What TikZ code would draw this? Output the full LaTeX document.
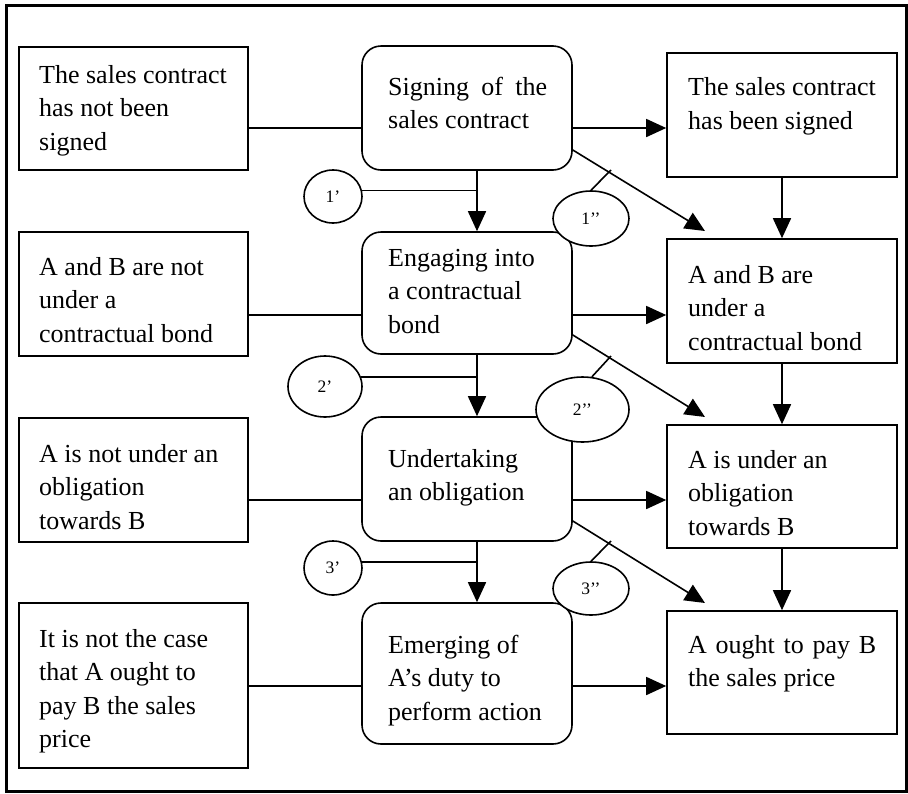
\documentclass[tikz,border=0pt]{standalone}
\usepackage{fontspec}
\setmainfont{Liberation Serif}
\usetikzlibrary{arrows.meta,shapes.geometric}
\begin{document}
\begin{tikzpicture}[x=1pt,y=-1pt,
  box/.style={draw,rectangle,line width=1.6pt,inner sep=0pt},
  rbox/.style={box,rounded corners=19pt},
  % text blocks are placed by the baseline of their last line
  txt/.style={anchor=base west,align=left,inner sep=0pt,font=\fontsize{26}{33.5}\selectfont},
  tag/.style={draw,fill=white,ellipse,line width=1.6pt,inner sep=0pt,font=\fontsize{17.5}{20}\selectfont},
  link/.style={line width=1.6pt},
  arr/.style={line width=1.6pt,-{Triangle[length=20pt,width=18pt]}},
]
\useasboundingbox (0,0) rectangle (908,793);
% outer frame
\draw[line width=3pt] (6,5) rectangle (906,791);

% left column: states before
\node[box,minimum width=229pt,minimum height=123pt] (L1) at (133.5,108.5) {};
\node[box,minimum width=229pt,minimum height=124pt] (L2) at (133.5,294) {};
\node[box,minimum width=229pt,minimum height=124pt] (L3) at (133.5,480) {};
\node[box,minimum width=229pt,minimum height=165pt] (L4) at (133.5,685.5) {};
\node[txt] (L1t) at (39,150) {The sales contract\\has not been\\signed};
\node[txt] (L2t) at (39,342) {A and B are not\\under a\\contractual bond};
\node[txt] (L3t) at (39,529) {A is not under an\\obligation\\towards B};
\node[txt] (L4t) at (39,747.5) {It is not the case\\that A ought to\\pay B the sales\\price};

% middle column: events
\node[rbox,minimum width=210pt,minimum height=124pt] (M1) at (467,108) {};
\node[rbox,minimum width=210pt,minimum height=122pt] (M2) at (467,293) {};
\node[rbox,minimum width=210pt,minimum height=124pt] (M3) at (467,479) {};
\node[rbox,minimum width=210pt,minimum height=141pt] (M4) at (467,673.5) {};
\node[txt] (M1t) at (388,128.5) {\makebox[159pt][s]{Signing of the}\\sales contract};
\node[txt] (M2t) at (388,333) {Engaging into\\a contractual\\bond};
\node[txt] (M3t) at (388,500.5) {Undertaking\\an obligation};
\node[txt] (M4t) at (388,720) {Emerging of\\A’s duty to\\perform action};

% right column: states after
\node[box,minimum width=230pt,minimum height=124pt] (R1) at (782,115) {};
\node[box,minimum width=230pt,minimum height=124pt] (R2) at (782,301) {};
\node[box,minimum width=230pt,minimum height=123pt] (R3) at (782,486.5) {};
\node[box,minimum width=230pt,minimum height=123pt] (R4) at (782,672.5) {};
\node[txt] (R1t) at (688,129) {The sales contract\\has been signed};
\node[txt] (R2t) at (688,350) {A and B are\\under a\\contractual bond};
\node[txt] (R3t) at (688,535) {A is under an\\obligation\\towards B};
\node[txt] (R4t) at (688,686.5) {\makebox[188pt][s]{A ought to pay B}\\the sales price};

% rule tags (drawn over the event boxes)
\node[tag,minimum width=58pt,minimum height=53pt] (T1a) at (333,196.5) {1’};
\node[tag,minimum width=74pt,minimum height=61pt] (T2a) at (325,386.5) {2’};
\node[tag,minimum width=58pt,minimum height=54pt] (T3a) at (333,568) {3’};
\node[tag,minimum width=76pt,minimum height=55pt] (T1b) at (591,218.5) {1’’};
\node[tag,minimum width=93pt,minimum height=65pt] (T2b) at (582.5,409.5) {2’’};
\node[tag,minimum width=76pt,minimum height=53pt] (T3b) at (591,588.5) {3’’};

% helper coordinates
\coordinate (h1) at (0,128);
\coordinate (h2) at (0,315);
\coordinate (h3) at (0,500);
\coordinate (h4) at (0,686);
\coordinate (col) at (477,0);
\coordinate (d1) at (0,150);
\coordinate (d2) at (0,335);
\coordinate (d3) at (0,521);
\coordinate (e1) at (705,231);
\coordinate (e2) at (705,417);
\coordinate (e3) at (705,603);
\coordinate (k1) at (611,170);
\coordinate (k2) at (611,356);
\coordinate (k3) at (611,541);

% before-state to event
\draw[link] (L1.east |- h1) -- (M1.west |- h1);
\draw[link] (L2.east |- h2) -- (M2.west |- h2);
\draw[link] (L3.east |- h3) -- (M3.west |- h3);
\draw[link] (L4.east |- h4) -- (M4.west |- h4);

% event to after-state
\draw[arr] (M1.east |- h1) -- (R1.west |- h1);
\draw[arr] (M2.east |- h2) -- (R2.west |- h2);
\draw[arr] (M3.east |- h3) -- (R3.west |- h3);
\draw[arr] (M4.east |- h4) -- (R4.west |- h4);

% event chain
\draw[arr] (M1.south -| col) -- (M2.north -| col);
\draw[arr] (M2.south -| col) -- (M3.north -| col);
\draw[arr] (M3.south -| col) -- (M4.north -| col);

% after-state chain
\draw[arr] (R1.south) -- (R2.north);
\draw[arr] (R2.south) -- (R3.north);
\draw[arr] (R3.south) -- (R4.north);

% diagonal consequences
\draw[arr] (M1.east |- d1) -- (e1);
\draw[arr] (M2.east |- d2) -- (e2);
\draw[arr] (M3.east |- d3) -- (e3);

% tag attachments
\draw[link] (T1a.12) -- (T1a.12 -| col);
\draw[link] (T2a.15) -- (T2a.15 -| col);
\draw[link] (T3a.12) -- (T3a.12 -| col);
\draw[link] (T1b.north) -- (k1);
\draw[link] (T2b.74) -- (k2);
\draw[link] (T3b.north) -- (k3);
\end{tikzpicture}
\end{document}
